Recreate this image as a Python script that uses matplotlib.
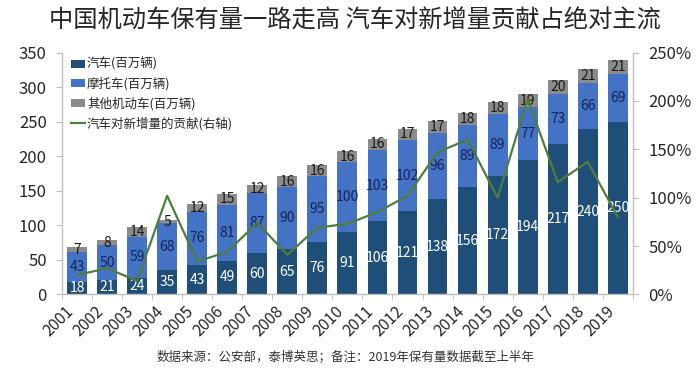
"""
China motor-vehicle stock 2001-2019, stacked bars + share line (right axis)
Output: out.png (700 x 368)
"""

import numpy as np
import matplotlib
matplotlib.use("Agg")
import matplotlib.pyplot as plt
from matplotlib.ticker import FixedLocator, FuncFormatter

plt.rcParams["font.family"] = ["Noto Sans CJK SC", "DejaVu Sans"]
plt.rcParams["axes.unicode_minus"] = False

# ── Data ─────────────────────────────────────────────────────────────────────
YEARS = [str(y) for y in range(2001, 2020)]

CARS = [18, 21, 24, 35, 43, 49, 60, 65, 76, 91,
        106, 121, 138, 156, 172, 194, 217, 240, 250]
MOTOS = [43, 50, 59, 68, 76, 81, 87, 90, 95, 100,
         103, 102, 96, 89, 89, 77, 73, 66, 69]
OTHERS = [7, 8, 14, 5, 12, 15, 12, 16, 16, 16,
          16, 17, 17, 18, 18, 19, 20, 21, 21]
# share of new additions contributed by cars (%), right axis
CAR_SHARE = [20, 27, 14, 102, 34, 44, 74, 41, 69, 73,
             85, 102, 147, 160, 100, 202, 116, 137, 80]

LABELS = ["汽车(百万辆)", "摩托车(百万辆)", "其他机动车(百万辆)", "汽车对新增量的贡献(右轴)"]
TITLE = "中国机动车保有量一路走高 汽车对新增量贡献占绝对主流"
SOURCE = "数据来源：公安部，泰博英思；备注：2019年保有量数据截至上半年"

# ── Style ────────────────────────────────────────────────────────────────────
C_CAR = "#1F4E79"
C_MOTO = "#4472C4"
C_OTHER = "#8C8C8C"
C_LINE = "#4F7D3A"
C_AXIS = "#BFBFBF"
C_TEXT = "#262626"
BAR_W = 0.66

# ── Figure ───────────────────────────────────────────────────────────────────
fig, ax = plt.subplots(figsize=(7.0, 3.68), dpi=100)
fig.subplots_adjust(left=0.0886, right=0.904, bottom=0.20, top=0.857)

x = np.arange(len(YEARS))
cars = np.array(CARS)
motos = np.array(MOTOS)
others = np.array(OTHERS)

b1 = ax.bar(x, cars, BAR_W, color=C_CAR, label=LABELS[0], zorder=2)
b2 = ax.bar(x, motos, BAR_W, bottom=cars, color=C_MOTO,
            label=LABELS[1], zorder=2)
b3 = ax.bar(x, others, BAR_W, bottom=cars + motos, color=C_OTHER,
            label=LABELS[2], zorder=2)

# ── Value labels (centred on each segment) ───────────────────────────────────
for i in range(len(YEARS)):
    ax.text(x[i], cars[i] / 2, str(cars[i]), ha="center", va="center",
            fontsize=10, color="white", zorder=4)
    ax.text(x[i], cars[i] + motos[i] / 2, str(motos[i]), ha="center",
            va="center", fontsize=10, color="#14255A", zorder=4)
    ax.text(x[i], cars[i] + motos[i] + others[i] / 2, str(others[i]),
            ha="center", va="center", fontsize=10, color="#1A1A1A", zorder=4)

# ── Right axis line ──────────────────────────────────────────────────────────
ax2 = ax.twinx()
ln, = ax2.plot(x, CAR_SHARE, color=C_LINE, linewidth=1.6,
               label=LABELS[3], zorder=3)

# ── Axes appearance ──────────────────────────────────────────────────────────
ax.set_xlim(-0.5, len(YEARS) - 0.5)
ax.set_ylim(0, 350)
ax2.set_ylim(0, 250)
ax.set_yticks(np.arange(0, 351, 50))
ax2.set_yticks(np.arange(0, 251, 50))
ax2.yaxis.set_major_formatter(FuncFormatter(lambda v, _: f"{v:.0f}%"))

ax.set_xticks(x)
ax.set_xticklabels(YEARS, rotation=45, ha="right", va="top")
ax.xaxis.set_minor_locator(FixedLocator(np.arange(-0.5, len(YEARS), 1.0)))
ax.tick_params(axis="x", which="major", length=0, pad=6,
               labelsize=11.5, labelcolor=C_TEXT)
ax.tick_params(axis="x", which="minor", length=4, color=C_AXIS,
               direction="out")
ax.tick_params(axis="y", length=4, color=C_AXIS, pad=7,
               labelsize=12, labelcolor=C_TEXT)
ax2.tick_params(axis="y", length=4, color=C_AXIS, pad=7,
                labelsize=12, labelcolor=C_TEXT)

for a in (ax, ax2):
    a.spines["top"].set_visible(False)
    for side in ("left", "right", "bottom"):
        a.spines[side].set_color(C_AXIS)
        a.spines[side].set_linewidth(1.0)
ax.spines["right"].set_visible(False)
ax2.spines["left"].set_visible(False)
ax2.spines["bottom"].set_visible(False)

# ── Legend ───────────────────────────────────────────────────────────────────
ax.legend([b1, b2, b3, ln], LABELS, loc="upper left",
          bbox_to_anchor=(0.0, 1.015), frameon=False, fontsize=9,
          handlelength=1.1, handleheight=0.6, handletextpad=0.2,
          labelspacing=0.5, borderaxespad=0.3, labelcolor=C_TEXT)

# ── Title and source ─────────────────────────────────────────────────────────
fig.text(0.507, 0.945, TITLE, ha="center", va="center",
         fontsize=17.5, color=C_TEXT)
fig.text(0.493, 0.03, SOURCE, ha="center", va="center",
         fontsize=9, color="#333333")

fig.savefig("out.png", dpi=100, facecolor="white")
plt.close(fig)
